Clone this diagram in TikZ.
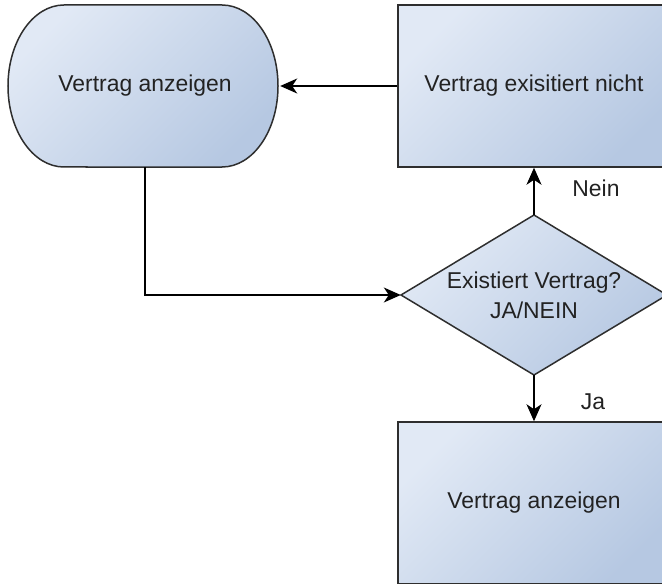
\documentclass[tikz,border=0pt]{standalone}
\usepackage{fontspec}
\setmainfont{Liberation Sans}
\usetikzlibrary{arrows.meta}
\definecolor{fillA}{HTML}{E1E9F5}
\definecolor{fillB}{HTML}{B6C8E2}
\definecolor{edgec}{HTML}{2E2E2E}
\definecolor{txt}{HTML}{222222}
\begin{document}
\begin{tikzpicture}[x=1bp,y=-1bp,
  shapefill/.style={top color=fillA,bottom color=fillB,shading angle=45,draw=edgec,line width=1.5bp},
  boxnode/.style={shapefill,minimum width=272bp,minimum height=162bp,inner sep=0pt,text=txt,font=\fontsize{23}{28}\selectfont},
  ghost/.style={inner sep=0pt,text=txt,font=\fontsize{23}{30}\selectfont,align=center},
  conn/.style={draw=black,line width=1.5bp,-{Stealth[length=17bp,width=15bp,inset=5bp]}},
  lbl/.style={text=txt,font=\fontsize{23}{28}\selectfont}]
\useasboundingbox (0,0) rectangle (662,584);
\clip (0,0) rectangle (662,584);
% terminal (stadium)
\path[shapefill] (64,5) -- (222,5) arc[start angle=90,end angle=-90,x radius=56bp,y radius=81bp]
  -- (64,167) arc[start angle=270,end angle=90,x radius=56bp,y radius=81bp] -- cycle;
\node[ghost,minimum width=270bp,minimum height=162bp] (term) at (145,86) {Vertrag anzeigen};
% boxes
\node[boxnode] (top) at (534,86) {Vertrag exisitiert nicht};
\node[boxnode] (bot) at (534,503) {Vertrag anzeigen};
% decision
\path[shapefill] (534,215) -- (667,295) -- (534,375) -- (401,295) -- cycle;
\node[ghost,minimum width=266bp,minimum height=160bp] (dec) at (534,295) {Existiert Vertrag?\\JA/NEIN};
% connectors
\draw[conn] (top.west) -- (term.east);
\draw[conn] (dec.north) -- (top.south);
\draw[conn] (dec.south) -- (bot.north);
\draw[conn] (term.south) |- (dec.west);
% labels
\node[lbl] (nein) at (596,188) {Nein};
\node[lbl] (ja) at (593,402) {Ja};
\end{tikzpicture}
\end{document}
